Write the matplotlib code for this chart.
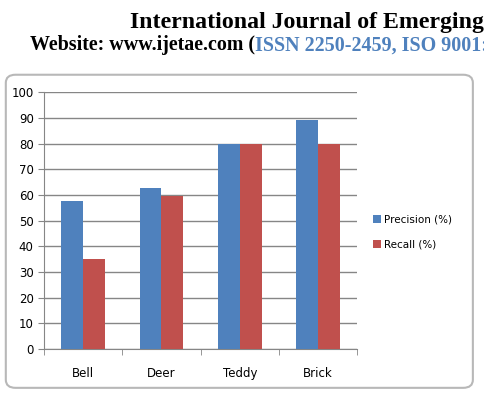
import matplotlib.pyplot as plt
import numpy as np
from matplotlib.patches import FancyBboxPatch

# Data
categories = ['Bell', 'Deer', 'Teddy', 'Brick']
precision = [57.5, 62.5, 80, 89]
recall = [35, 59.5, 80, 80]
series_names = ['Precision (%)', 'Recall (%)']
colors = ['#4F81BD', '#C0504D']

fig = plt.figure(figsize=(4.84, 4.04), dpi=100)

# Page header (cut off at right edge like the scanned page)
fig.text(0.268, 0.945, 'International Journal of Emerging', family='Liberation Serif',
         fontweight='bold', fontsize=17.2, va='center', ha='left')
t1 = fig.text(0.062, 0.888, 'Website: www.ijetae.com (', family='Liberation Serif',
              fontweight='bold', fontsize=14.4, va='center', ha='left')
fig.canvas.draw()
bb = t1.get_window_extent().transformed(fig.transFigure.inverted())
fig.text(bb.x1, 0.888, 'ISSN 2250-2459, ISO 9001:', family='Liberation Serif',
         fontweight='bold', fontsize=14.4, va='center', ha='left', color='#4F81BD')

# Chart frame
frame = FancyBboxPatch((0.012, 0.04), 0.965, 0.775, boxstyle='round,pad=0,rounding_size=0.02',
                       transform=fig.transFigure, facecolor='white', edgecolor='#B8B8B8',
                       linewidth=1.5, zorder=-1)
fig.patches.append(frame)

ax = fig.add_axes([0.091, 0.136, 0.647, 0.636])
ax.set_zorder(1)
x = np.arange(len(categories))
w = 0.28
ax.bar(x - w / 2, precision, w, color=colors[0], label=series_names[0], zorder=3)
ax.bar(x + w / 2, recall, w, color=colors[1], label=series_names[1], zorder=3)

ax.set_xlim(-0.5, len(categories) - 0.5)
ax.set_ylim(0, 100)
ax.set_yticks(range(0, 101, 10))
ax.yaxis.grid(True, color='#868686', linewidth=1, zorder=0)
ax.set_axisbelow(True)
ax.set_xticks(x)
ax.set_xticklabels(categories, fontsize=8.5)
ax.set_xticks(np.arange(-0.5, len(categories), 1), minor=True)
ax.tick_params(axis='x', which='major', length=0, pad=13)
ax.tick_params(axis='x', which='minor', length=4, color='#868686')
ax.tick_params(axis='y', length=4, color='#868686', labelsize=8.5)
for s in ['top', 'right']:
    ax.spines[s].set_visible(False)
ax.spines['left'].set_color('#868686')
ax.spines['bottom'].set_color('#868686')
ax.patch.set_alpha(0)

ax.legend(loc='center left', bbox_to_anchor=(1.02, 0.455), frameon=False, fontsize=7.5,
          handlelength=0.8, handleheight=0.8, handletextpad=0.3, labelspacing=1.5)

fig.savefig('out.png', dpi=100)
